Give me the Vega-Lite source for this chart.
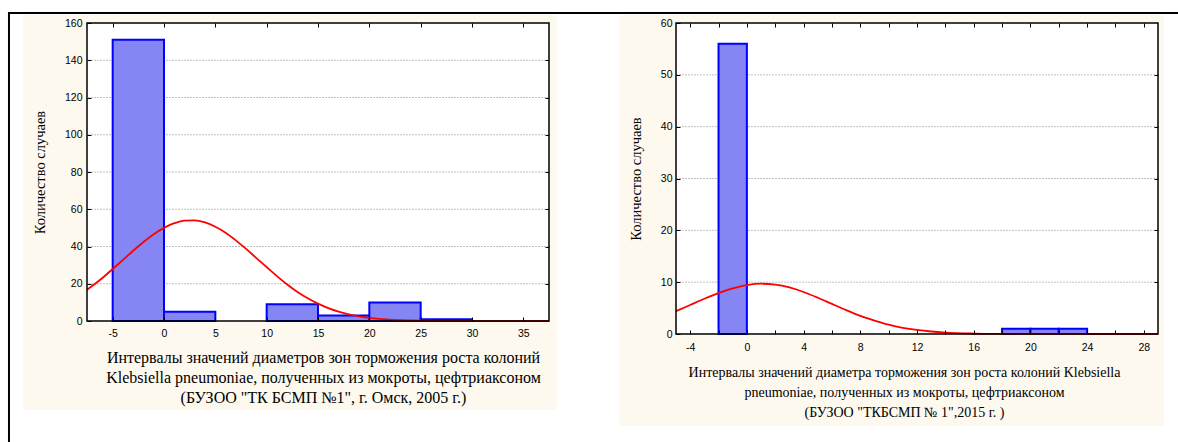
{
  "$schema": "https://vega.github.io/schema/vega-lite/v6.json",
  "padding": {"left": 7, "top": 11, "right": 0, "bottom": 0},
  "background": "white",
  "spacing": 127,
  "bounds": "flush",
  "config": {
    "view": {"stroke": null},
    "axis": {
      "labelFont": "Liberation Sans", "labelFontSize": 10.5, "labelColor": "#000",
      "titleFont": "Liberation Serif", "titleFontWeight": "normal", "titleColor": "#000",
      "zindex": 1, "grid": false, "domain": false, "tickColor": "#000", "tickWidth": 1
    }
  },
  "datasets": {
    "leftBars": [
      {"x0": -5, "x1": 0, "count": 151},
      {"x0": 0, "x1": 5, "count": 5},
      {"x0": 10, "x1": 15, "count": 9},
      {"x0": 15, "x1": 20, "count": 3},
      {"x0": 20, "x1": 25, "count": 10},
      {"x0": 25, "x1": 30, "count": 1}
    ],
    "leftCurve": [
      {"x": -7.5, "y": 16.8}, {"x": -6, "y": 23.1}, {"x": -5, "y": 27.9}, {"x": -4, "y": 32.8},
      {"x": -3, "y": 37.7}, {"x": -2, "y": 42.4}, {"x": -1, "y": 46.6}, {"x": 0, "y": 50.0},
      {"x": 1, "y": 52.5}, {"x": 2, "y": 53.9}, {"x": 3, "y": 54.0}, {"x": 4, "y": 52.9},
      {"x": 5, "y": 50.6}, {"x": 6, "y": 47.4}, {"x": 7, "y": 43.3}, {"x": 8, "y": 38.7},
      {"x": 9, "y": 33.8}, {"x": 10, "y": 28.9}, {"x": 11, "y": 24.1}, {"x": 12, "y": 19.6},
      {"x": 13, "y": 15.6}, {"x": 14, "y": 12.2}, {"x": 15, "y": 9.3}, {"x": 16, "y": 6.9},
      {"x": 17, "y": 5.0}, {"x": 18, "y": 3.6}, {"x": 19, "y": 2.5}, {"x": 20, "y": 1.7},
      {"x": 22, "y": 0.7}, {"x": 24, "y": 0.3}, {"x": 26, "y": 0.1}, {"x": 28, "y": 0.03},
      {"x": 30, "y": 0}, {"x": 37.5, "y": 0}
    ],
    "leftGrid": [{"v": 20}, {"v": 40}, {"v": 60}, {"v": 80}, {"v": 100}, {"v": 120}, {"v": 140}],
    "rightBars": [
      {"x0": -2, "x1": 0, "count": 56},
      {"x0": 18, "x1": 20, "count": 1},
      {"x0": 20, "x1": 22, "count": 1},
      {"x0": 22, "x1": 24, "count": 1}
    ],
    "rightCurve": [
      {"x": -5, "y": 4.4}, {"x": -4, "y": 5.6}, {"x": -3, "y": 6.8}, {"x": -2, "y": 7.9},
      {"x": -1, "y": 8.8}, {"x": 0, "y": 9.45}, {"x": 1, "y": 9.7}, {"x": 2, "y": 9.53},
      {"x": 3, "y": 8.98}, {"x": 4, "y": 8.1}, {"x": 5, "y": 7.0}, {"x": 6, "y": 5.8},
      {"x": 7, "y": 4.6}, {"x": 8, "y": 3.5}, {"x": 9, "y": 2.6}, {"x": 10, "y": 1.8},
      {"x": 11, "y": 1.2}, {"x": 12, "y": 0.78}, {"x": 13, "y": 0.48}, {"x": 14, "y": 0.28},
      {"x": 16, "y": 0.09}, {"x": 18, "y": 0.02}, {"x": 20, "y": 0}, {"x": 29, "y": 0}
    ],
    "rightGrid": [{"v": 10}, {"v": 20}, {"v": 30}, {"v": 40}, {"v": 50}]
  },
  "hconcat": [
    {
      "width": 462,
      "height": 298,
      "resolve": {"axis": {"x": "independent", "y": "independent"}},
      "layer": [
        {
          "data": {"values": [{}]},
          "mark": {"type": "rect", "fill": "white", "fillOpacity": 0, "stroke": "#000", "strokeWidth": 2},
          "encoding": {
            "x": {"datum": -15.1, "type": "quantitative", "scale": {"domain": [-7.5, 37.5], "nice": false, "zero": false}, "axis": null},
            "x2": {"datum": 101},
            "y": {"datum": 165.37, "type": "quantitative", "scale": {"domain": [0, 160], "nice": false}, "axis": null},
            "y2": {"datum": -75}
          }
        },
        {
          "data": {"values": [{}]},
          "mark": {"type": "rect", "fill": "#fdf9ef"},
          "encoding": {
            "x": {"datum": -13.73, "type": "quantitative", "scale": {"domain": [-7.5, 37.5], "nice": false, "zero": false}, "axis": null},
            "x2": {"datum": 38.28},
            "y": {"datum": 164.3, "type": "quantitative", "scale": {"domain": [0, 160], "nice": false}, "axis": null},
            "y2": {"datum": -47.8}
          }
        },
        {
          "data": {"values": [{}]},
          "mark": {"type": "rect", "fill": "white"},
          "encoding": {
            "x": {"datum": -7.5, "type": "quantitative", "scale": {"domain": [-7.5, 37.5], "nice": false, "zero": false}, "axis": null},
            "x2": {"datum": 37.5},
            "y": {"datum": 0, "type": "quantitative", "scale": {"domain": [0, 160], "nice": false}, "axis": null},
            "y2": {"datum": 160}
          }
        },
        {
          "data": {"name": "leftGrid"},
          "mark": {"type": "rule", "stroke": "#c0c0c0", "strokeWidth": 1, "strokeDash": [2, 1]},
          "encoding": {
            "y": {"field": "v", "type": "quantitative", "scale": {"domain": [0, 160], "nice": false}, "axis": null}
          }
        },
        {
          "data": {"name": "leftBars"},
          "mark": {"type": "rect", "fill": "#8585f3", "stroke": "#0000ff", "strokeWidth": 2},
          "encoding": {
            "x": {
              "field": "x0", "type": "quantitative",
              "scale": {"domain": [-7.5, 37.5], "nice": false, "zero": false},
              "axis": {
                "orient": "bottom", "values": [-5, 0, 5, 10, 15, 20, 25, 30, 35], "zindex": 2,
                "labelExpr": "datum.value < 0 ? '-' + abs(datum.value) : datum.label",
                "tickSize": -4, "labelPadding": 11, "minExtent": 18, "maxExtent": 18,
                "title": [
                  "Интервалы значений диаметров зон торможения роста колоний",
                  "Klebsiella pneumoniae, полученных из мокроты, цефтриаксоном",
                  "(БУЗОО \"ТК БСМП №1\", г. Омск, 2005 г.)"
                ],
                "titleFontSize": 16, "titleLineHeight": 20, "titlePadding": 10, "titleX": 236
              }
            },
            "x2": {"field": "x1"},
            "y": {
              "field": "count", "type": "quantitative",
              "scale": {"domain": [0, 160], "nice": false},
              "axis": {
                "orient": "left", "values": [0, 20, 40, 60, 80, 100, 120, 140, 160], "zindex": 2,
                "tickSize": -4, "labelPadding": 9, "minExtent": 30, "maxExtent": 30,
                "title": "Количество случаев", "titleFontSize": 14.5, "titlePadding": 10
              }
            },
            "y2": {"datum": 0}
          }
        },
        {
          "data": {"name": "leftCurve"},
          "mark": {"type": "line", "stroke": "#ff0000", "strokeWidth": 1.8, "interpolate": "monotone"},
          "encoding": {
            "x": {"field": "x", "type": "quantitative", "scale": {"domain": [-7.5, 37.5], "nice": false, "zero": false}, "axis": null},
            "y": {"field": "y", "type": "quantitative", "scale": {"domain": [0, 160], "nice": false}, "axis": null}
          }
        },
        {
          "data": {"values": [{}]},
          "mark": {"type": "rect", "fill": "white", "fillOpacity": 0, "stroke": "#000", "strokeWidth": 1.5},
          "encoding": {
            "x": {
              "datum": -7.5, "type": "quantitative",
              "scale": {"domain": [-7.5, 37.5], "nice": false, "zero": false},
              "axis": {"orient": "top", "values": [-5, 0, 5, 10, 15, 20, 25, 30, 35], "labels": false, "title": null, "tickSize": -4, "zindex": 2}
            },
            "x2": {"datum": 37.5},
            "y": {
              "datum": 0, "type": "quantitative",
              "scale": {"domain": [0, 160], "nice": false},
              "axis": {"orient": "right", "values": [20, 40, 60, 80, 100, 120, 140], "labels": false, "title": null, "tickSize": -4, "zindex": 2}
            },
            "y2": {"datum": 160}
          }
        }
      ]
    },
    {
      "width": 482,
      "height": 311,
      "resolve": {"axis": {"x": "independent", "y": "independent"}},
      "layer": [
        {
          "data": {"values": [{}]},
          "mark": {"type": "rect", "fill": "#fdf9ef"},
          "encoding": {
            "x": {"datum": -9.02, "type": "quantitative", "scale": {"domain": [-5, 29], "nice": false, "zero": false}, "axis": null},
            "x2": {"datum": 29.42},
            "y": {"datum": 61.54, "type": "quantitative", "scale": {"domain": [0, 60], "nice": false}, "axis": null},
            "y2": {"datum": -17.75}
          }
        },
        {
          "data": {"values": [{}]},
          "mark": {"type": "rect", "fill": "white"},
          "encoding": {
            "x": {"datum": -5, "type": "quantitative", "scale": {"domain": [-5, 29], "nice": false, "zero": false}, "axis": null},
            "x2": {"datum": 29},
            "y": {"datum": 0, "type": "quantitative", "scale": {"domain": [0, 60], "nice": false}, "axis": null},
            "y2": {"datum": 60}
          }
        },
        {
          "data": {"name": "rightGrid"},
          "mark": {"type": "rule", "stroke": "#c0c0c0", "strokeWidth": 1, "strokeDash": [2, 1]},
          "encoding": {
            "y": {"field": "v", "type": "quantitative", "scale": {"domain": [0, 60], "nice": false}, "axis": null}
          }
        },
        {
          "data": {"name": "rightBars"},
          "mark": {"type": "rect", "fill": "#8585f3", "stroke": "#0000ff", "strokeWidth": 2},
          "encoding": {
            "x": {
              "field": "x0", "type": "quantitative",
              "scale": {"domain": [-5, 29], "nice": false, "zero": false},
              "axis": {
                "orient": "bottom", "values": [-4, -2, 0, 2, 4, 6, 8, 10, 12, 14, 16, 18, 20, 22, 24, 26, 28], "zindex": 2,
                "labelExpr": "datum.value % 4 != 0 ? '' : (datum.value < 0 ? '-' + abs(datum.value) : datum.label)",
                "tickSize": -4, "labelPadding": 12, "minExtent": 18, "maxExtent": 18,
                "title": [
                  "Интервалы значений диаметра торможения зон роста колоний Klebsiella",
                  "pneumoniae, полученных из мокроты, цефтриаксоном",
                  "(БУЗОО \"ТКБСМП №  1\",2015 г. )"
                ],
                "titleFontSize": 14, "titleLineHeight": 20, "titlePadding": 13, "titleX": 228
              }
            },
            "x2": {"field": "x1"},
            "y": {
              "field": "count", "type": "quantitative",
              "scale": {"domain": [0, 60], "nice": false},
              "axis": {
                "orient": "left", "values": [0, 10, 20, 30, 40, 50, 60], "zindex": 2,
                "tickSize": -4, "labelPadding": 8, "minExtent": 25, "maxExtent": 25,
                "title": "Количество случаев", "titleFontSize": 14.5, "titlePadding": 8
              }
            },
            "y2": {"datum": 0}
          }
        },
        {
          "data": {"name": "rightCurve"},
          "mark": {"type": "line", "stroke": "#ff0000", "strokeWidth": 1.8, "interpolate": "monotone"},
          "encoding": {
            "x": {"field": "x", "type": "quantitative", "scale": {"domain": [-5, 29], "nice": false, "zero": false}, "axis": null},
            "y": {"field": "y", "type": "quantitative", "scale": {"domain": [0, 60], "nice": false}, "axis": null}
          }
        },
        {
          "data": {"values": [{}]},
          "mark": {"type": "rect", "fill": "white", "fillOpacity": 0, "stroke": "#000", "strokeWidth": 1.5},
          "encoding": {
            "x": {
              "datum": -5, "type": "quantitative",
              "scale": {"domain": [-5, 29], "nice": false, "zero": false},
              "axis": {"orient": "top", "values": [-4, -2, 0, 2, 4, 6, 8, 10, 12, 14, 16, 18, 20, 22, 24, 26, 28], "labels": false, "title": null, "tickSize": -4, "zindex": 2}
            },
            "x2": {"datum": 29},
            "y": {
              "datum": 0, "type": "quantitative",
              "scale": {"domain": [0, 60], "nice": false},
              "axis": {"orient": "right", "values": [10, 20, 30, 40, 50], "labels": false, "title": null, "tickSize": -4, "zindex": 2}
            },
            "y2": {"datum": 60}
          }
        }
      ]
    }
  ]
}
